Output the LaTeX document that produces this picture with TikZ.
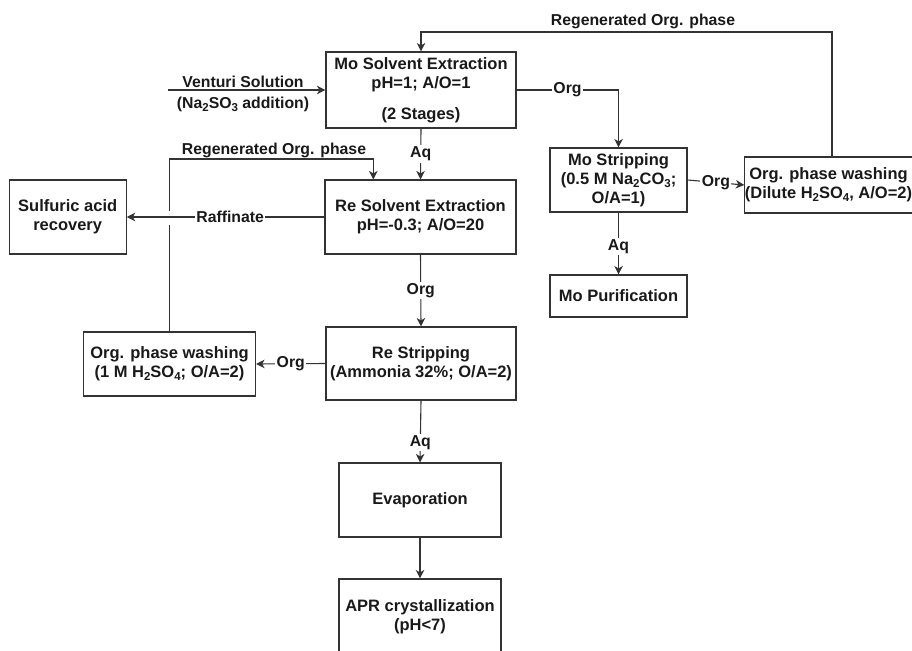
\documentclass[tikz,border=0pt]{standalone}
\usepackage{fontspec}
\setmainfont{Liberation Sans}
\usetikzlibrary{arrows.meta}
\newcommand{\chs}[1]{\raisebox{-0.35ex}{\fontsize{11.5}{11.5}\selectfont #1}}
\begin{document}
\begin{tikzpicture}[x=1pt,y=-1pt,
 box/.style={draw=black!80, line width=1.1pt, rectangle, align=center, inner sep=0pt, font=\bfseries\fontsize{16.5}{19}\selectfont, text=black!90},
 lbl/.style={fill=white, inner sep=1.5pt, font=\bfseries\fontsize{15.8}{18}\selectfont, text=black!90},
 txt/.style={inner sep=0pt, font=\bfseries\fontsize{15.8}{18}\selectfont, text=black!90},
 conn/.style={draw=black!80, line width=1.1pt, -{Stealth[length=8.5pt,width=8.5pt,inset=2.5pt]}},
 plain/.style={draw=black!80, line width=1.1pt}]
\useasboundingbox (0,0) rectangle (912,650);
\clip (0,0) rectangle (912,650);
% boxes
\node[box, minimum width=190pt, minimum height=76pt] (moSX) at (421,90) {Mo Solvent Extraction\\pH=1; A/O=1\\[12pt](2 Stages)};
\node[box, minimum width=191pt, minimum height=74pt] (reSX) at (420.5,217) {Re Solvent Extraction\\pH=-0.3; A/O=20};
\node[box, minimum width=117pt, minimum height=74pt] (sulf) at (67.7,217) {Sulfuric acid\\recovery};
\node[box, minimum width=190pt, minimum height=73pt] (reStr) at (421,363.5) {Re Stripping\\(Ammonia 32\%; O/A=2)};
\node[box, minimum width=172pt, minimum height=64pt] (washL) at (169.5,364) {Org. phase washing\\(1 M H\chs{2}SO\chs{4}; O/A=2)};
\node[box, minimum width=162pt, minimum height=74pt] (evap) at (420,500) {Evaporation};
\node[box, minimum width=162pt, minimum height=76pt] (apr) at (420,617) {APR crystallization\\(pH<7)};
\node[box, minimum width=137pt, minimum height=64pt] (moStr) at (618.5,180) {Mo Stripping\\(0.5 M Na\chs{2}CO\chs{3};\\O/A=1)};
\node[box, minimum width=137pt, minimum height=42pt] (moPur) at (618.5,296) {Mo Purification};
\node[box, minimum width=163pt, minimum height=56pt] (washR) at (828.5,185) {Org. phase washing\\(Dilute H\chs{2}SO\chs{4}, A/O=2)};
% venturi feed
\coordinate (vent) at (168,90);
\draw[conn] (vent) -- (moSX.west);
\node[txt] (ventA) at (243,82) {Venturi Solution};
\node[txt] (ventB) at (243,104) {(Na\chs{2}SO\chs{3} addition)};
% main column
\draw[conn] (moSX.south) -- node[lbl, pos=0.5] {Aq} (reSX.north);
\draw[conn] (reSX.south) -- node[lbl, pos=0.5] {Org} (reStr.north);
\draw[conn] (reStr.south) -- node[lbl, pos=0.68] {Aq} (evap.north);
\draw[conn] (evap.south) -- (apr.north);
% Mo branch
\draw[conn] (moSX.east) -| node[lbl, pos=0.25] {Org} (moStr.north);
\draw[conn] (moStr.east) -- node[lbl, pos=0.5] {Org} (washR.west);
\draw[conn] (moStr.south) -- node[lbl, pos=0.55] {Aq} (moPur.north);
\coordinate (tr) at (832,32);
\coordinate (tl) at (421,32);
\draw[conn] (washR.north -| tr) -- (tr) -- (tl) -- (moSX.north);
\node[txt] (regTop) at (643,21.7) {Regenerated Org. phase};
% Re branch
\draw[conn] (reStr.west) -- node[lbl, pos=0.5] {Org} (washL.east);
\coordinate (ll) at (169.3,159);
\coordinate (lr) at (373.3,159);
\draw[conn] (washL.north -| ll) -- (ll) -- (lr) -- (reSX.north -| lr);
\node[txt] (regLeft) at (274,150.7) {Regenerated Org. phase};
\fill[white] (163,211) rectangle (175,224.5);
\draw[conn] (reSX.west) -- node[lbl, pos=0.477] {Raffinate} (sulf.east);
\end{tikzpicture}
\end{document}
